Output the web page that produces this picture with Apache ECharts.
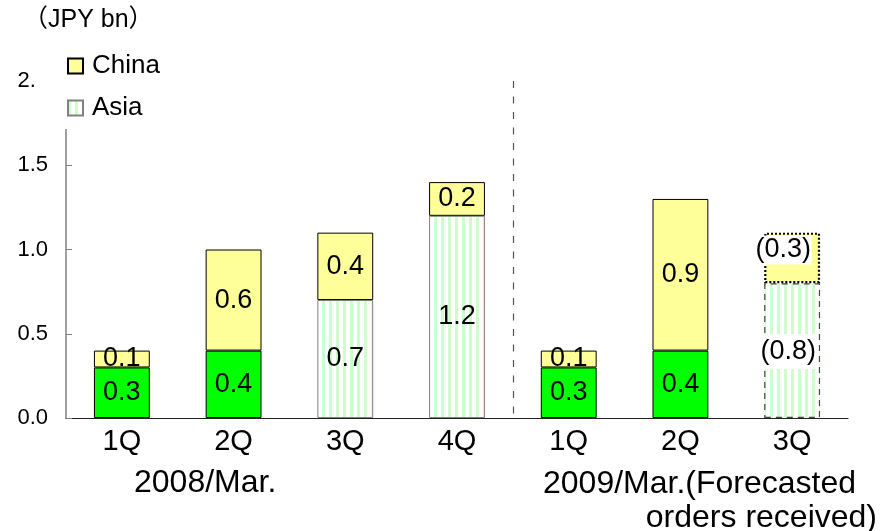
<!DOCTYPE html>
<html>
<head>
<meta charset="utf-8">
<script src="https://cdn.jsdelivr.net/npm/echarts@6/dist/echarts.min.js"></script>
<style>
  html, body { margin: 0; padding: 0; background: #fff; }
  #chart { width: 890px; height: 531px; }
</style>
</head>
<body>
<div id="chart"></div>
<script>
// Quarterly orders by region (JPY bn)
const categories = ['1Q', '2Q', '3Q', '4Q', '1Q', '2Q', '3Q'];
const asiaValues = [0.3, 0.4, 0.7, 1.2, 0.3, 0.4, 0.8];
const chinaValues = [0.1, 0.6, 0.4, 0.2, 0.1, 0.9, 0.3];
// Asia segments drawn in solid green (the others are striped)
const asiaSolid = [true, true, false, false, true, true, false];
// Forecast quarters (dashed outline, bracketed labels)
const isForecast = [false, false, false, false, false, false, true];
const yTicks = [0, 0.5, 1.0, 1.5, 2.0];
const periodLabels = ['2008/Mar.', '2009/Mar.(Forecasted', 'orders received)'];
// first category of the second fiscal year
const yearSplitIndex = 4;

const FONT = '"Liberation Sans", Arial, "Noto Sans CJK JP", sans-serif';

// vertical light-green stripe fill
function stripeCanvas() {
  const c = document.createElement('canvas');
  c.width = 7; c.height = 7;
  const ctx = c.getContext('2d');
  ctx.fillStyle = '#ffffff';
  ctx.fillRect(0, 0, 7, 7);
  ctx.fillStyle = '#ccffcc';
  ctx.fillRect(0, 0, 3, 7);
  return c;
}
const stripeFill = { image: stripeCanvas(), repeat: 'repeat' };

const fmt = v => Number(v).toFixed(1);

const valueLabel = {
  show: true,
  position: 'inside',
  color: '#000',
  fontFamily: FONT,
  fontSize: 27,
  formatter: p => fmt(p.value)
};

const asiaData = asiaValues.map((v, i) => {
  const item = { value: v };
  if (asiaSolid[i]) {
    item.itemStyle = { color: '#00ff00', borderColor: '#000', borderWidth: 1 };
  }
  if (isForecast[i]) {
    item.itemStyle = { color: stripeFill, borderColor: '#444', borderWidth: 1.2, borderType: [6, 5] };
    item.label = {
      formatter: p => '(' + fmt(p.value) + ')',
      backgroundColor: '#fff',
      padding: [4, 2, 4, 2],
      offset: [-4, 1]
    };
  }
  return item;
});

const chinaData = chinaValues.map((v, i) => {
  const item = { value: v };
  if (isForecast[i]) {
    item.itemStyle = { color: '#ffff99', borderColor: '#000', borderWidth: 2.2, borderType: [2, 2] };
    item.label = {
      formatter: p => '(' + fmt(p.value) + ')',
      backgroundColor: '#fff',
      padding: [1, 1, 1, 1],
      offset: [-9, -8]
    };
  }
  return item;
});

const chart = echarts.init(document.getElementById('chart'), null, { renderer: 'canvas' });

chart.setOption({
  animation: false,
  backgroundColor: '#fff',
  textStyle: { fontFamily: FONT },
  title: {
    text: '（JPY bn）',
    left: 18,
    top: 3,
    textStyle: { fontFamily: FONT, fontSize: 25, fontWeight: 'normal', color: '#000' }
  },
  legend: {
    orient: 'vertical',
    left: 36,
    top: 43,
    padding: [10, 14, 8, 31],
    backgroundColor: '#fff',
    itemWidth: 15,
    itemHeight: 15,
    itemGap: 16,
    icon: 'rect',
    data: ['China', 'Asia'],
    textStyle: { fontFamily: FONT, fontSize: 26, color: '#000', lineHeight: 26, padding: [0, 0, 0, 4] }
  },
  grid: { left: 66, right: 42, top: 81, bottom: 113, containLabel: false },
  xAxis: {
    type: 'category',
    data: categories,
    boundaryGap: true,
    axisLine: { lineStyle: { color: '#222', width: 1.2 } },
    axisTick: { show: false },
    axisLabel: { color: '#000', fontFamily: FONT, fontSize: 29, margin: 9, interval: 0 },
    splitLine: { show: false }
  },
  yAxis: {
    type: 'value',
    min: yTicks[0],
    max: yTicks[yTicks.length - 1],
    interval: 0.5,
    axisLine: { show: true, lineStyle: { color: '#808080', width: 1.5 } },
    axisTick: { show: true, inside: true, length: 6, lineStyle: { color: '#808080' } },
    splitLine: { show: false },
    axisLabel: { color: '#000', fontFamily: FONT, fontSize: 22, margin: 18, formatter: v => fmt(v) }
  },
  series: [
    {
      name: 'Asia',
      type: 'bar',
      stack: 'orders',
      barWidth: '50%',
      itemStyle: { color: stripeFill, borderColor: '#808080', borderWidth: 1 },
      label: valueLabel,
      data: asiaData
    },
    {
      name: 'China',
      type: 'bar',
      stack: 'orders',
      barWidth: '50%',
      itemStyle: { color: '#ffff99', borderColor: '#000', borderWidth: 1 },
      label: valueLabel,
      data: chinaData
    }
  ]
});

// Dashed divider between fiscal years, placed midway between the two categories,
// plus the fiscal-year captions under the quarter labels.
const xPrev = chart.convertToPixel({ xAxisIndex: 0 }, yearSplitIndex - 1);
const xNext = chart.convertToPixel({ xAxisIndex: 0 }, yearSplitIndex);
const xDiv = Math.round((xPrev + xNext) / 2) + 0.5;
const yTop = chart.convertToPixel({ yAxisIndex: 0 }, yTicks[yTicks.length - 1]);
const yBottom = chart.convertToPixel({ yAxisIndex: 0 }, yTicks[0]);

chart.setOption({
  graphic: [
    {
      type: 'line',
      shape: { x1: xDiv, y1: yTop, x2: xDiv, y2: yBottom },
      style: { stroke: '#555', lineWidth: 1.2, lineDash: [7, 8.5] },
      z: 1
    },
    {
      type: 'text', left: 134, top: 467,
      style: { text: periodLabels[0], font: '32px ' + FONT, fill: '#000' }
    },
    {
      type: 'text', left: 543, top: 468,
      style: { text: periodLabels[1], font: '32px ' + FONT, fill: '#000' }
    },
    {
      type: 'text', right: 13, top: 502,
      style: { text: periodLabels[2], font: '32px ' + FONT, fill: '#000' }
    }
  ]
});
</script>
</body>
</html>
